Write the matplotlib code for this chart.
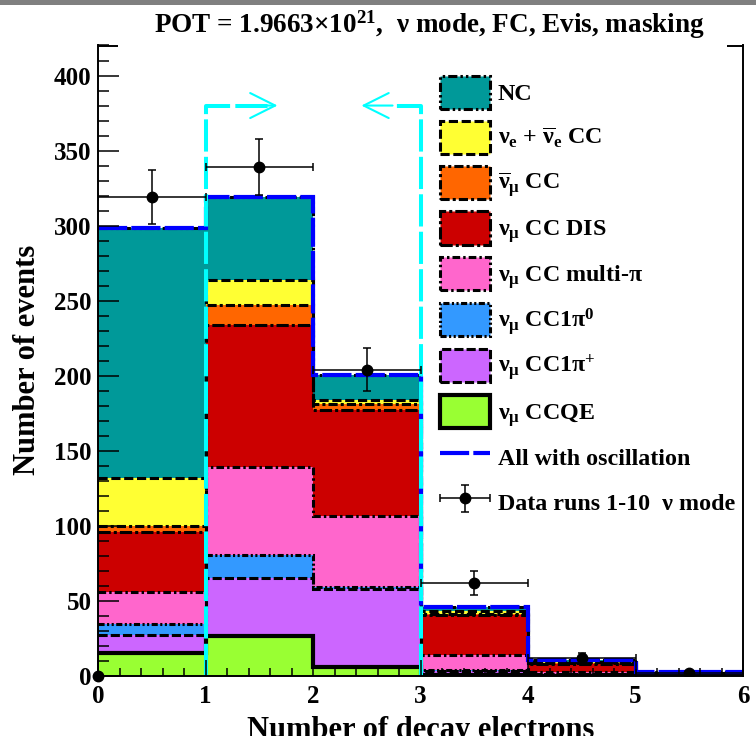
import numpy as np
import matplotlib
matplotlib.use("Agg")
import matplotlib.pyplot as plt
from matplotlib.patches import Rectangle, Patch
from matplotlib.lines import Line2D
from matplotlib.ticker import MultipleLocator
from matplotlib.legend_handler import HandlerErrorbar
from matplotlib.container import ErrorbarContainer

plt.rcParams['font.family'] = ['Liberation Serif', 'DejaVu Serif']
plt.rcParams['font.weight'] = 'bold'
plt.rcParams['mathtext.fontset'] = 'custom'
plt.rcParams['mathtext.rm'] = 'Liberation Serif:bold'
plt.rcParams['mathtext.it'] = 'Liberation Serif:bold'
plt.rcParams['mathtext.bf'] = 'Liberation Serif:bold'
plt.rcParams['mathtext.default'] = 'rm'

# ---------------- data ----------------
bin_edges = [0, 1, 2, 3, 4, 5, 6]
# stacked components (bottom -> top)
numu_ccqe = [15.0, 26.6, 6.2, 0.5, 0.2, 0.05]
numu_1pip = [12.3, 38.4, 51.8, 2.5, 0.8, 0.15]
numu_1pi0 = [7.3, 15.5, 1.5, 1.0, 0.3, 0.05]
numu_multipi = [21.3, 58.4, 47.2, 10.0, 1.6, 0.4]
numu_dis = [40.1, 94.7, 70.3, 26.6, 5.1, 1.2]
numubar_cc = [4.0, 13.3, 4.5, 1.0, 0.5, 0.1]
nue_cc = [32.0, 17.1, 2.2, 1.9, 0.8, 0.15]
nc = [166.4, 55.0, 16.6, 2.6, 1.3, 0.4]
osc_total = [298.4, 319.0, 200.3, 46.1, 10.6, 2.5]

data_x = [0.5, 1.5, 2.5, 3.5, 4.5, 5.5]
data_y = [319, 339, 204, 62, 12, 2]
data_yerr = [17.9, 18.4, 14.3, 7.9, 3.5, 1.4]
data_xerr = [0.5, 0.5, 0.5, 0.5, 0.5, 0.5]
underflow_x = [0]
underflow_y = [0]

cut_low, cut_high = 1, 3
cut_height = 380
arrow_tip_low, arrow_tip_high = 1.67, 2.45
shaft_end_low, shaft_end_high = 1.6, 2.74

title = r"POT = 1.9663$\times10^{21}$,  ν mode, FC, Evis, masking"
labels = ["NC",
          r"$\nu_{e}$ + $\overline{\nu}_{e}$ CC",
          r"$\overline{\nu}_{\mu}$ CC",
          r"$\nu_{\mu}$ CC DIS",
          r"$\nu_{\mu}$ CC multi-$\pi$",
          r"$\nu_{\mu}$ CC1$\pi^{0}$",
          r"$\nu_{\mu}$ CC1$\pi^{+}$",
          r"$\nu_{\mu}$ CCQE"]
osc_label = "All with oscillation"
data_label = "Data runs 1-10  ν mode"

# (values, color, linestyle, linewidth) bottom -> top
components = [
    (numu_ccqe, '#99FF33', '-', 3.0),
    (numu_1pip, '#CC66FF', (0, (3, 1)), 2.2),
    (numu_1pi0, '#3399FF', (0, (2, 0.8, 0.7, 0.8, 0.7, 0.8)), 2.2),
    (numu_multipi, '#FF66CC', (0, (2.5, 1, 0.8, 1)), 2.2),
    (numu_dis, '#CC0000', (0, (4, 1, 1, 1)), 2.2),
    (numubar_cc, '#FF6600', (0, (3, 1, 1, 1)), 2.2),
    (nue_cc, '#FFFF33', (0, (3, 1.2)), 2.2),
    (nc, '#009999', (0, (3, 1, 0.8, 1, 0.8, 1)), 2.2),
]

# ---------------- figure ----------------
W, H = 756, 736
fig = plt.figure(figsize=(W / 100, H / 100), dpi=100)
ax = fig.add_axes([98 / W, 1 - 676 / H, 645 / W, 630.5 / H])

edges = np.array(bin_edges, dtype=float)
cums = []
base = np.zeros(len(edges) - 1)
for vals, color, ls, lw in components:
    base = base + np.array(vals)
    cums.append(base.copy())

# draw like ROOT THStack: from top component down
for (vals, color, ls, lw), cum in reversed(list(zip(components, cums))):
    ax.stairs(cum, edges, baseline=0, fill=True, color=color, lw=0, zorder=1)
    ax.stairs(cum, edges, baseline=None, fill=False, edgecolor='black',
              linestyle=ls, linewidth=lw, zorder=1.2)

ax.stairs(osc_total, edges, baseline=None, fill=False, edgecolor='#0000FF',
          linewidth=3, linestyle=(0, (7, 1)), zorder=1.5)

# cut lines (cyan)
ax.plot([cut_low, cut_low, shaft_end_low], [0, cut_height, cut_height],
        color='#00FFFF', lw=2.9, ls=(0, (8, 1.3)), zorder=2, solid_capstyle='butt')
ax.plot([cut_high, cut_high, shaft_end_high], [0, cut_height, cut_height],
        color='#00FFFF', lw=2.9, ls=(0, (8, 1.3)), zorder=2, solid_capstyle='butt')
for tip, start in [(arrow_tip_low, shaft_end_low - 0.1), (arrow_tip_high, shaft_end_high)]:
    ax.annotate('', xy=(tip, cut_height), xytext=(start, cut_height),
                arrowprops=dict(arrowstyle='->,head_length=0.9,head_width=0.45',
                                color='#00FFFF', lw=1.5, mutation_scale=20,
                                shrinkA=0, shrinkB=0), zorder=2)

# data
data_cont = ax.errorbar(data_x, data_y, xerr=data_xerr, yerr=data_yerr, fmt='o',
                        color='black', ms=7.5, capsize=3, elinewidth=1.1,
                        capthick=1.1, zorder=4)
ax.plot(underflow_x, underflow_y, 'o', color='black', ms=7.5, clip_on=False, zorder=5)

ax.set_xlim(0, 6)
ax.set_ylim(0, 420)
ax.xaxis.set_major_locator(MultipleLocator(1))
ax.xaxis.set_minor_locator(MultipleLocator(0.2))
ax.yaxis.set_major_locator(MultipleLocator(50))
ax.yaxis.set_minor_locator(MultipleLocator(10))
ax.tick_params(axis='both', which='both', direction='in', top=False, right=False,
               colors='black')
ax.tick_params(axis='y', which='major', length=15, width=1.1, pad=4.5, labelsize=18)
ax.tick_params(axis='y', which='minor', length=7.6, width=1.1)
ax.tick_params(axis='x', which='major', length=11.5, width=1.1, pad=6.5, labelsize=18)
ax.tick_params(axis='x', which='minor', length=5.8, width=1.1)
ax.set_axisbelow(False)
for s in ax.spines.values():
    s.set_linewidth(1.4)
    s.set_zorder(3)

ax.set_ylabel("Number of events", fontsize=22, fontweight='bold')
ax.yaxis.set_label_coords(-0.087, 0.501)
ax.set_xlabel("Number of decay electrons", fontsize=22, fontweight='bold')
ax.xaxis.set_label_coords(0.5, -0.0634)

# legend
handles = [Patch(facecolor=c, edgecolor='black', linestyle=ls, linewidth=lw)
           for (v, c, ls, lw) in reversed(components)]
handles.append(Line2D([], [], color='#0000FF', lw=3, ls=(0, (7, 1))))
handles.append(data_cont)
leg = ax.legend(handles, labels + [osc_label, data_label], loc='upper left',
                bbox_to_anchor=(0.530, 0.952), frameon=False, fontsize=17.3,
                handlelength=2.08, handleheight=1.738, labelspacing=0.5,
                handletextpad=0.33, borderpad=0, borderaxespad=0,
                handler_map={ErrorbarContainer: HandlerErrorbar(xerr_size=1.04, yerr_size=0.56)})
leg.set_zorder(6)

# page band and title box
fig.add_artist(Rectangle((0, 1 - 5 / H), 1, 5 / H, transform=fig.transFigure,
                         facecolor='#808080', edgecolor='none', zorder=10))
fig.add_artist(Rectangle((118 / W, 1 - 52 / H), (727 - 118) / W, (52 - 6) / H,
                         transform=fig.transFigure, facecolor='white',
                         edgecolor='none', zorder=5))
fig.text(429 / W, 1 - 33 / H, title, ha='center', va='baseline', fontsize=19.5,
         fontweight='bold', zorder=6)

fig.savefig("out.png", dpi=100)
